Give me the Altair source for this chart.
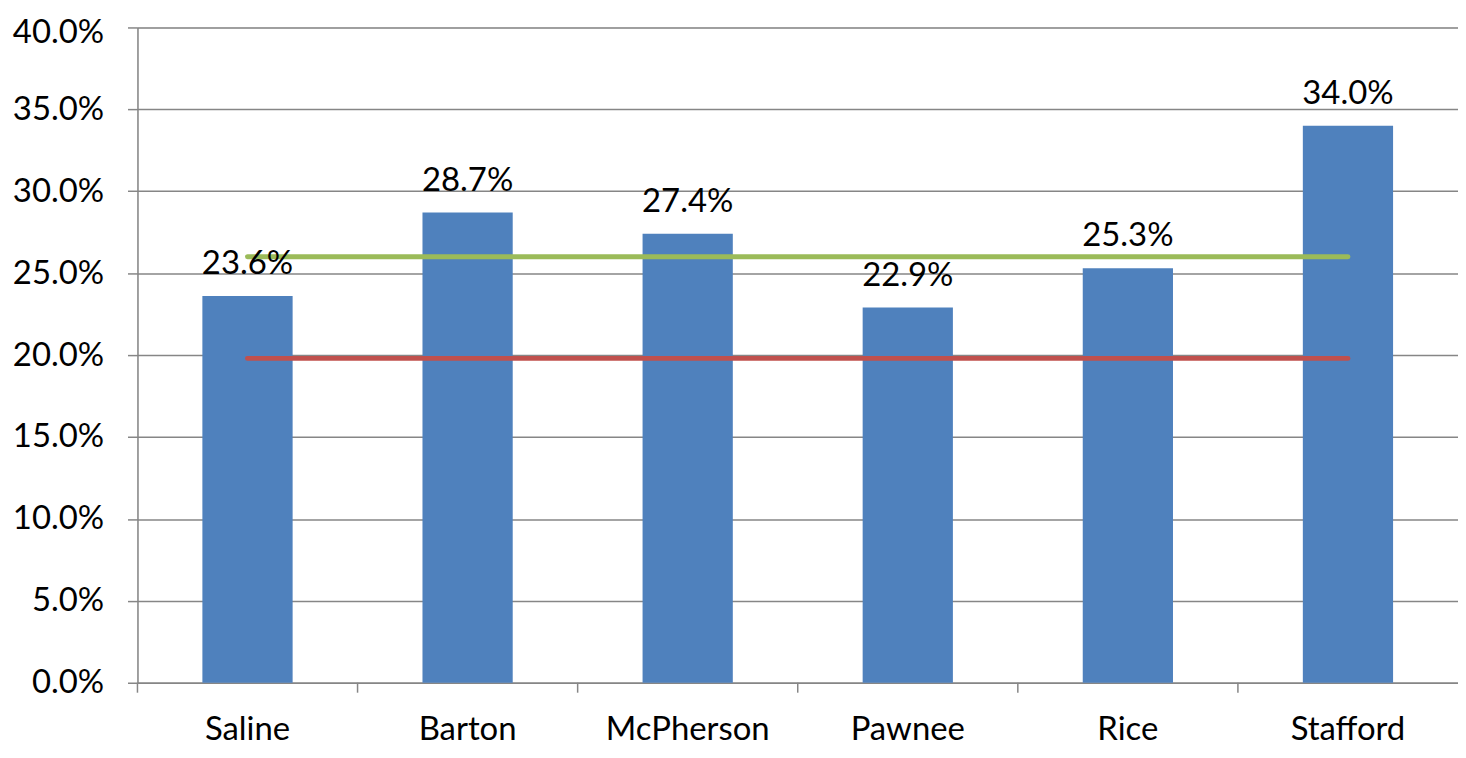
import altair as alt
import pandas as pd

counties = ["Saline", "Barton", "McPherson", "Pawnee", "Rice", "Stafford"]
rates = [23.6, 28.7, 27.4, 22.9, 25.3, 34.0]
line_names = ["Region", "State"]
line_values = [26.0, 19.8]
line_colors = ["#9BBB59", "#C0504D"]

bars_df = pd.DataFrame({"county": counties, "rate": [r / 100 for r in rates]})
lines_df = pd.DataFrame(
    [{"county": c, "name": n, "value": v / 100} for n, v in zip(line_names, line_values) for c in counties]
)
ticks_df = pd.DataFrame({"county": counties})

FONT = "Lato"
FS = 33
W = 1326
H = 658
STEP = W / len(counties)

x_scale = alt.Scale(domain=counties, paddingInner=0.59, paddingOuter=0.295)
y_scale = alt.Scale(domain=[0, 0.4])

x_enc = alt.X(
    "county:N",
    scale=x_scale,
    sort=counties,
    axis=alt.Axis(
        title=None, labelAngle=0, ticks=False, domain=True, domainColor="#868686",
        domainWidth=1.5, labelFont=FONT, labelFontSize=FS, labelColor="#000000",
        labelPadding=31, grid=False,
    ),
)
y_enc = alt.Y(
    "rate:Q",
    scale=y_scale,
    axis=alt.Axis(
        title=None, format=".1%", values=[i * 0.05 for i in range(9)],
        grid=True, gridColor="#868686", gridWidth=1.5, domain=True, domainColor="#868686",
        domainWidth=1.5, ticks=True, tickSize=10, tickColor="#868686", tickWidth=1.5,
        labelFont=FONT, labelFontSize=FS, labelColor="#000000", labelPadding=24,
        labelOffset={"condition": {"test": "datum.value >= 0.39", "value": 5}, "value": 0},
    ),
)

bars = alt.Chart(bars_df).mark_bar(color="#4F81BD").encode(x=x_enc, y=y_enc)

labels = alt.Chart(bars_df).mark_text(
    font=FONT, fontSize=FS, color="#000000", baseline="alphabetic", dy=-22
).encode(
    x=alt.X("county:N", scale=x_scale, sort=counties),
    y=alt.Y("rate:Q", scale=y_scale),
    text=alt.Text("rate:Q", format=".1%"),
)

lines = alt.Chart(lines_df).mark_line(strokeWidth=5, strokeCap="round").encode(
    x=alt.X("county:N", scale=x_scale, sort=counties),
    y=alt.Y("value:Q", scale=y_scale),
    color=alt.Color("name:N", scale=alt.Scale(domain=line_names, range=line_colors), legend=None),
)

xticks = alt.Chart(ticks_df).mark_rule(
    color="#868686", strokeWidth=1.5, xOffset=-STEP / 2
).encode(
    x=alt.X("county:N", scale=x_scale, sort=counties),
    y=alt.value(H),
    y2=alt.value(H + 10),
)

chart = (
    alt.layer(bars, lines, labels, xticks)
    .properties(
        width=W,
        height=H,
        autosize=alt.AutoSizeParams(type="none"),
        padding={"left": 130, "top": 18, "right": 0, "bottom": 66},
    )
    .configure_view(stroke=None)
    .configure(background="#ffffff")
)

chart.save("out.html", embed_options={"renderer": "svg", "actions": False})
